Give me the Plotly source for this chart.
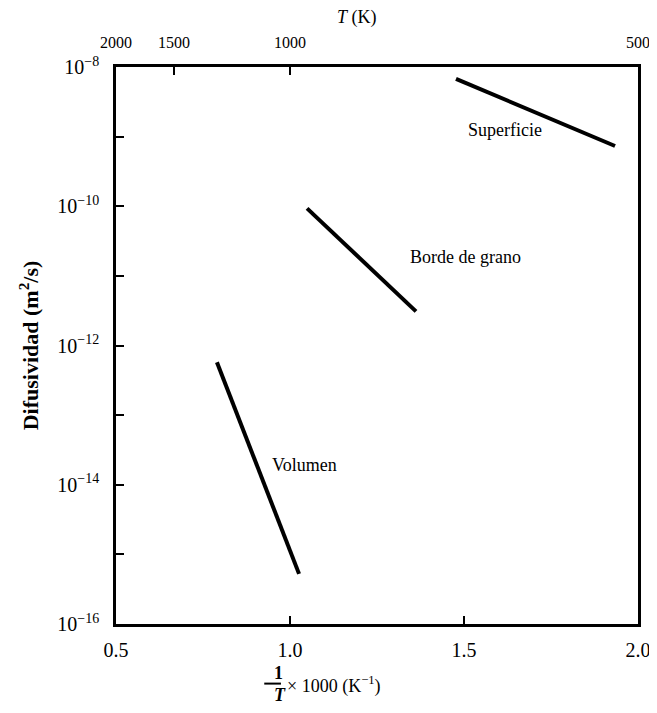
import plotly.graph_objects as go

# Data (x = 1000/T in 1/K, y = diffusivity in m^2/s)
sup_x = [1.477, 1.934]
sup_y = [10**-8.17, 10**-9.135]
borde_x = [1.049, 1.362]
borde_y = [10**-10.03, 10**-11.51]
vol_x = [0.790, 1.026]
vol_y = [10**-12.24, 10**-15.28]

labels = ["Superficie", "Borde de grano", "Volumen"]
label_x = [1.618, 1.503, 1.043]
label_logy = [-8.905, -10.73, -13.72]

x_ticks = [0.5, 1.0, 1.5, 2.0]
x_ticktext = ["0.5", "1.0", "1.5", "2.0"]
T_vals = [2000, 1500, 1000, 500]
T_text = ["2000", "1500", "1000", "500"]
y_exps = [-8, -9, -10, -11, -12, -13, -14, -15, -16]

FONT = "Liberation Serif"

fig = go.Figure()
for xs, ys in [(sup_x, sup_y), (borde_x, borde_y), (vol_x, vol_y)]:
    fig.add_trace(go.Scatter(x=xs, y=ys, mode="lines",
                             line=dict(color="black", width=4),
                             showlegend=False, hoverinfo="skip"))

# invisible trace for top axis
fig.add_trace(go.Scatter(x=[0.5, 2.0], y=[1e-16, 1e-8], xaxis="x2",
                         mode="markers", marker=dict(opacity=0),
                         showlegend=False, hoverinfo="skip"))

for t, xx, yy in zip(labels, label_x, label_logy):
    fig.add_annotation(x=xx, y=yy, xref="x", yref="y", text=t, showarrow=False,
                       font=dict(family=FONT, size=18, color="black"))

ytext = [("10<sup>%d</sup>" % e) if e % 2 == 0 else "" for e in y_exps]
ytext = [s.replace("-", "\u2212") for s in ytext]

fig.update_layout(
    width=648, height=697,
    margin=dict(l=108, r=18, t=59, b=81, autoexpand=False),
    paper_bgcolor="white", plot_bgcolor="white",
    font=dict(family=FONT, size=16, color="black"),
    xaxis=dict(range=[0.5, 2.0], tickvals=x_ticks, ticktext=x_ticktext,
               ticks="inside", ticklen=8, tickwidth=1.5, tickcolor="black",
               showline=True, linecolor="black", linewidth=2.5, mirror=False,
               showgrid=False, zeroline=False, ticklabelstandoff=6,
               automargin=False, ticklabeloverflow="allow",
               tickfont=dict(family=FONT, size=20)),
    xaxis2=dict(range=[0.5, 2.0], overlaying="x", side="top",
                tickvals=[1000.0 / t for t in T_vals], ticktext=T_text,
                ticks="inside", ticklen=8, tickwidth=1.5, tickcolor="black",
                showline=True, linecolor="black", linewidth=2.5,
                showgrid=False, zeroline=False, ticklabelstandoff=10,
                automargin=False, ticklabeloverflow="allow",
                tickfont=dict(family=FONT, size=16)),
    yaxis=dict(type="log", range=[-16, -8],
               tickvals=[10.0**e for e in y_exps], ticktext=ytext,
               ticks="inside", ticklen=8, tickwidth=1.5, tickcolor="black",
               showline=True, linecolor="black", linewidth=2.5, mirror=True,
               showgrid=False, zeroline=False, ticklabelstandoff=10,
               automargin=False, ticklabeloverflow="allow",
               tickfont=dict(family=FONT, size=20),
               title=dict(text="<b>Difusividad (m<sup>2</sup>/s)</b>",
                          font=dict(family=FONT, size=22), standoff=13)),
)

# Top axis title
fig.add_annotation(xref="paper", yref="paper", x=0.462, y=1.088,
                   yanchor="middle", text="<i>T</i> (K)", showarrow=False,
                   font=dict(family=FONT, size=18))

# Bottom axis title: fraction 1/T x 1000 (K^-1)
fig.add_annotation(xref="paper", yref="paper", x=0.299, y=-0.088,
                   yanchor="middle", text="<b>1</b>", showarrow=False,
                   font=dict(family=FONT, size=18))
fig.add_annotation(xref="paper", yref="paper", x=0.299, y=-0.127,
                   yanchor="middle", text="<i><b>T</b></i>", showarrow=False,
                   font=dict(family=FONT, size=18))
fig.add_shape(type="line", xref="paper", yref="paper", x0=0.284, x1=0.316,
              y0=-0.107, y1=-0.107, line=dict(color="black", width=2))
fig.add_annotation(xref="paper", yref="paper", x=0.324, y=-0.110,
                   xanchor="left", yanchor="middle",
                   text="\u00d7 1000 (K<sup>\u22121</sup>)", showarrow=False,
                   font=dict(family=FONT, size=18))

fig.write_html("out.html")
